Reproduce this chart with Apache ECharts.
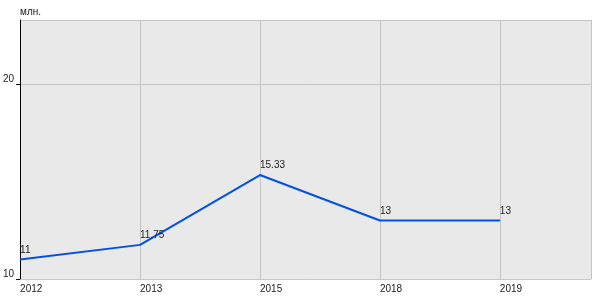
<!DOCTYPE html>
<html><head><meta charset="utf-8">
<script src="https://cdn.jsdelivr.net/npm/echarts@6/dist/echarts.min.js"></script>
<style>html,body{margin:0;padding:0;background:#fff}#c{width:600px;height:300px}</style>
</head><body><div id="c"></div>
<script>
var categories = ['2012', '2013', '2015', '2018', '2019'];
var values = [11, 11.75, 15.33, 13, 13];
var yTicks = [10, 20];
var unitName = 'млн.';

var chart = echarts.init(document.getElementById('c'));
var font = 'Liberation Sans, Arial, sans-serif';
chart.setOption({
  animation: false,
  grid: {left: 20, top: 20, right: 9, bottom: 21, show: true, backgroundColor: '#e9e9e9', borderWidth: 0, containLabel: false},
  xAxis: {
    type: 'value', min: 0, max: 4.76, interval: 1,
    axisLine: {show: true, lineStyle: {color: '#c8c8c8', width: 1}},
    axisTick: {show: false},
    splitLine: {show: true, lineStyle: {color: '#c4c4c4', width: 1}},
    axisLabel: {
      show: true, align: 'left', margin: 5, fontSize: 10, color: '#222', fontFamily: font,
      showMaxLabel: false,
      formatter: function (v) { return (Math.abs(v - Math.round(v)) < 1e-6 && categories[Math.round(v)]) ? categories[Math.round(v)] : ''; }
    }
  },
  yAxis: {
    type: 'value', min: yTicks[0], max: 23.28, interval: yTicks[1] - yTicks[0],
    name: unitName, nameLocation: 'end', nameGap: 3,
    nameTextStyle: {align: 'left', fontSize: 10, color: '#222', fontFamily: font, padding: [0, 0, 0, 0]},
    axisLine: {show: true, lineStyle: {color: '#000', width: 1}},
    axisTick: {show: true, length: 4, lineStyle: {color: '#000'}},
    splitLine: {show: true, lineStyle: {color: '#c4c4c4', width: 1}},
    axisLabel: {show: true, margin: 6, fontSize: 10, color: '#222', fontFamily: font, showMaxLabel: false,
      verticalAlign: 'bottom', lineHeight: 10,
      formatter: function (v) { return yTicks.indexOf(v) >= 0 ? String(v) : ''; }}
  },
  series: [{
    type: 'line',
    data: values.map(function (v, i) { return [i, v]; }),
    showSymbol: true, symbol: 'circle', symbolSize: 1,
    itemStyle: {color: '#0050e6'},
    lineStyle: {color: '#0050e6', width: 2},
    label: {show: true, position: 'top', align: 'left', distance: 4, fontSize: 10, color: '#222', fontFamily: font,
      formatter: function (p) { return String(p.value[1]); }}
  }]
});
</script></body></html>
